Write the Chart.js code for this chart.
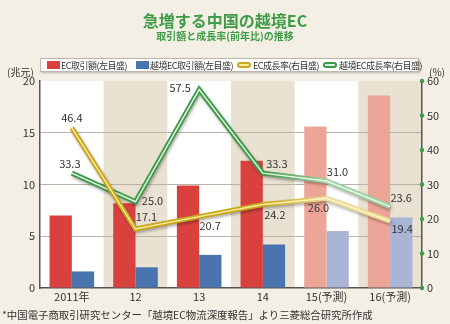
<!DOCTYPE html>
<html lang="ja">
<head>
<meta charset="utf-8">
<script src="https://cdn.jsdelivr.net/npm/chart.js@4"></script>
<style>
  body { margin: 0; background: #f3efe5; font-family: 'Noto Sans CJK JP', sans-serif; }
  #wrap { position: relative; width: 450px; height: 324px; overflow: hidden; }
  #chart { position: absolute; left: 0; top: 0; }
  .title { position: absolute; left: 0; width: 450px; text-align: center; color: #3f9c46; font-weight: bold; }
  .t1 { top: 9px; font-size: 16px; line-height: 22px; }
  .t2 { top: 29px; font-size: 10px; line-height: 14px; }
  .unit { position: absolute; top: 65px; font-size: 10px; line-height: 14px; color: #333; }
  .legend { position: absolute; left: 40px; top: 58px; width: 377px; height: 12px; background: #fff;
            border: 1px solid #bdb8ae; box-shadow: 1px 1px 2px rgba(0,0,0,0.25);
            font-size: 9px; color: #333; white-space: nowrap; }
  .legend span.item { position: absolute; display: flex; align-items: center; top: 0; height: 12px; letter-spacing: -0.5px; }
  .sw { display: inline-block; width: 13px; height: 8px; margin-right: 1px; }
  .cap { display: inline-block; width: 10px; height: 2px; border-radius: 3px; margin-right: 2px; }
  .note { position: absolute; left: 2px; top: 307px; font-size: 10.4px; line-height: 15px; color: #333; white-space: nowrap; }
</style>
</head>
<body>
<div id="wrap">
  <canvas id="chart" width="450" height="324"></canvas>
  <div class="title t1">急増する中国の越境EC</div>
  <div class="title t2">取引額と成長率(前年比)の推移</div>
  <div class="unit" style="left:7px">(兆元)</div>
  <div class="unit" style="left:429px">(%)</div>
  <div class="legend">
    <span class="item" style="left:6px"><i class="sw" style="background:#d9413f"></i>EC取引額(左目盛)</span>
    <span class="item" style="left:95px"><i class="sw" style="background:#4a74ad"></i>越境EC取引額(左目盛)</span>
    <span class="item" style="left:196px"><i class="cap" style="background:#f6ec9a;border:2px solid #c9a61e"></i>EC成長率(右目盛)</span>
    <span class="item" style="left:282px"><i class="cap" style="background:#e3f3e2;border:2px solid #3d9a48"></i>越境EC成長率(右目盛)</span>
  </div>
  <div class="note">*中国電子商取引研究センター「越境EC物流深度報告」より三菱総合研究所作成</div>
</div>
<script>
// 年次と系列データ
const years = ['2011年', '12', '13', '14', '15(予測)', '16(予測)'];
const ecTrade = [7.0, 8.2, 9.9, 12.3, 15.6, 18.6];       // 兆元
const crossTrade = [1.6, 2.0, 3.2, 4.2, 5.5, 6.8];       // 兆元
const ecGrowth = [46.4, 17.1, 20.7, 24.2, 26.0, 19.4];   // %
const crossGrowth = [33.3, 25.0, 57.5, 33.3, 31.0, 23.6]; // %
const firstForecast = 4;

// 値ラベルの位置(点からのずれ)
const ecGrowthLabelPos = [[0, -10], [11, -12], [11, 9], [12, 10], [-8, 10], [12, 8]];
const crossGrowthLabelPos = [[-2, -9], [17, -1], [-19, -2], [14, -9], [11, -9], [11, -9]];

const FONT = "'Noto Sans CJK JP', sans-serif";
const RED = '#d9413f', RED_F = '#eda597';
const BLUE = '#4a74ad', BLUE_F = '#a9b4d6';

const barColors = (c, f) => years.map((_, i) => i >= firstForecast ? f : c);

// 14→15 にかけて色を薄くするグラデーション
function fade(chart, from, to) {
  const x = chart.scales.x;
  if (!chart.chartArea || !x) return from;
  const g = chart.ctx.createLinearGradient(x.getPixelForValue(firstForecast - 1), 0, x.getPixelForValue(firstForecast), 0);
  g.addColorStop(0, from);
  g.addColorStop(1, to);
  return g;
}

// 列ごとの背景(白/ベージュ交互)
const stripes = {
  id: 'stripes',
  beforeDraw(chart) {
    const { ctx, chartArea: a } = chart;
    const w = (a.right - a.left) / years.length;
    ctx.save();
    years.forEach((_, i) => {
      ctx.fillStyle = i % 2 ? '#e9e1d1' : '#ffffff';
      ctx.fillRect(a.left + i * w, a.top, w, a.bottom - a.top);
    });
    ctx.restore();
  }
};

// 二重線(外側の太線+内側の細線)と影
const tubeLines = {
  id: 'tubeLines',
  beforeDatasetDraw(chart, args) {
    if (args.meta.type !== 'line') return;
    const ctx = chart.ctx;
    ctx.save();
    ctx.shadowColor = 'rgba(0,0,0,0.3)';
    ctx.shadowBlur = 3;
    ctx.shadowOffsetX = 1;
    ctx.shadowOffsetY = 2;
  },
  afterDatasetDraw(chart, args) {
    if (args.meta.type !== 'line') return;
    const ctx = chart.ctx;
    ctx.restore();
    const ds = chart.data.datasets[args.index];
    const pts = args.meta.data;
    ctx.save();
    ctx.beginPath();
    pts.forEach((p, i) => i ? ctx.lineTo(p.x, p.y) : ctx.moveTo(p.x, p.y));
    ctx.lineWidth = 1.4;
    ctx.lineJoin = 'miter';
    ctx.strokeStyle = fade(chart, ds.innerColor, ds.innerFade);
    ctx.stroke();
    ctx.restore();
  }
};

// 成長率の値ラベル
const valueLabels = {
  id: 'valueLabels',
  afterDatasetsDraw(chart) {
    const ctx = chart.ctx;
    ctx.save();
    ctx.font = '11px ' + FONT;
    ctx.fillStyle = '#333';
    ctx.textAlign = 'center';
    ctx.textBaseline = 'middle';
    chart.data.datasets.forEach((ds, di) => {
      if (!ds.labelPos) return;
      chart.getDatasetMeta(di).data.forEach((p, i) => {
        const [dx, dy] = ds.labelPos[i];
        ctx.fillText(ds.data[i].toFixed(1), p.x + dx, p.y + dy);
      });
    });
    ctx.restore();
  }
};

// 右目盛の緑の点
const rightDots = {
  id: 'rightDots',
  afterDraw(chart) {
    const s = chart.scales.y1, ctx = chart.ctx;
    ctx.save();
    ctx.fillStyle = '#3d9a48';
    s.ticks.forEach(t => {
      ctx.beginPath();
      ctx.arc(chart.chartArea.right, s.getPixelForValue(t.value), 2.2, 0, Math.PI * 2);
      ctx.fill();
    });
    ctx.restore();
  }
};

new Chart(document.getElementById('chart'), {
  data: {
    labels: years,
    datasets: [
      { type: 'line', label: 'EC成長率(右目盛)', data: ecGrowth, yAxisID: 'y1', order: 0,
        borderWidth: 5, borderColor: ctx => fade(ctx.chart, '#c9a61e', '#ecdb8e'),
        innerColor: '#f8ee9e', innerFade: '#fbf6d2', labelPos: ecGrowthLabelPos,
        pointRadius: 0, tension: 0, borderJoinStyle: 'miter', borderCapStyle: 'butt' },
      { type: 'line', label: '越境EC成長率(右目盛)', data: crossGrowth, yAxisID: 'y1', order: 1,
        borderWidth: 5, borderColor: ctx => fade(ctx.chart, '#3d9a48', '#9fd0a2'),
        innerColor: '#e6f5e4', innerFade: '#eef8ed', labelPos: crossGrowthLabelPos,
        pointRadius: 0, tension: 0, borderJoinStyle: 'miter', borderCapStyle: 'butt' },
      { type: 'bar', label: 'EC取引額(左目盛)', data: ecTrade, yAxisID: 'y', order: 2,
        backgroundColor: barColors(RED, RED_F), categoryPercentage: 0.7, barPercentage: 1 },
      { type: 'bar', label: '越境EC取引額(左目盛)', data: crossTrade, yAxisID: 'y', order: 3,
        backgroundColor: barColors(BLUE, BLUE_F), categoryPercentage: 0.7, barPercentage: 1 }
    ]
  },
  options: {
    responsive: false,
    animation: false,
    layout: { padding: { top: 81, left: 0, right: 0, bottom: 16 } },
    plugins: { legend: { display: false }, tooltip: { enabled: false } },
    scales: {
      x: {
        grid: { display: false, drawTicks: false },
        border: { display: true, color: '#555', width: 1.5 },
        ticks: { font: { family: FONT, size: 11 }, color: '#333', padding: 2, maxRotation: 0 },
        afterFit: s => { s.height = 20; }
      },
      y: {
        position: 'left', min: 0, max: 20,
        grid: { drawTicks: false, color: c => (c.tick.value === 0 || c.tick.value === 20) ? 'rgba(0,0,0,0)' : '#b8b2a7' },
        border: { display: true, color: '#555', width: 1.5 },
        ticks: { stepSize: 5, font: { family: FONT, size: 11 }, color: '#333', padding: 5 },
        afterFit: s => { s.width = 40; }
      },
      y1: {
        position: 'right', min: 0, max: 60,
        grid: { display: false, drawTicks: false },
        border: { display: true, color: '#555', width: 1.5 },
        ticks: { stepSize: 10, font: { family: FONT, size: 11 }, color: '#333', padding: 5 },
        afterFit: s => { s.width = 28; }
      }
    }
  },
  plugins: [stripes, tubeLines, valueLabels, rightDots]
});
</script>
</body>
</html>
